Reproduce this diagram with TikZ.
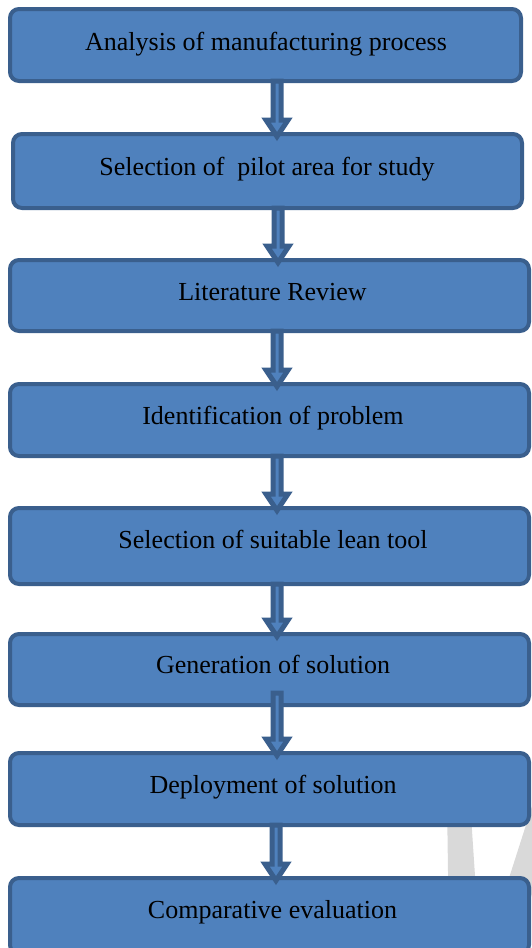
\documentclass[tikz,border=0pt]{standalone}
\usepackage{fontspec}
\setmainfont{Liberation Serif}
\usetikzlibrary{calc}
\definecolor{boxfill}{HTML}{4F81BD}
\definecolor{boxline}{HTML}{3A5F8D}
\definecolor{wmark}{HTML}{D9D9D9}
\tikzset{
  flowbox/.style={draw=boxline, fill=boxfill, line width=4pt, rounded corners=9pt,
    inner sep=0pt, outer sep=0pt},
  flowtext/.style={anchor=base, inner sep=0pt, font=\fontsize{26}{30}\selectfont},
  blockarrow/.style={draw=boxline, fill=boxfill, line width=5pt, line join=miter, miter limit=10}
}
\newcommand{\mkbox}[5]{% name, left, right, top, bottom
  \node[flowbox, minimum width={#3-#2-4}, minimum height={#5-#4-4}]
    (#1) at ({(#2+#3)/2},{(#4+#5)/2}) {};
}
% block arrow from node #1 (bottom) to node #2 (top), at x = #3, start raised by #4
\newcommand{\flowarrow}[4]{%
  \filldraw[blockarrow] let \p1=(#1.south), \p2=(#2.north) in
    ({(#3-4)*1pt},{\y1+#4}) -- ({(#3+4)*1pt},{\y1+#4}) -- ({(#3+4)*1pt},{\y2+14pt})
    -- ({(#3+11)*1pt},{\y2+14pt}) -- ({#3*1pt},{\y2-2.5pt}) -- ({(#3-11)*1pt},{\y2+14pt})
    -- ({(#3-4)*1pt},{\y2+14pt}) -- cycle;
}
\begin{document}
\begin{tikzpicture}[x=1pt,y=-1pt]
\useasboundingbox (0,0) rectangle (531,948);
% watermark fragments
\fill[wmark] (447,800) -- (470,800) -- (476.6,900) -- (448.4,900) -- cycle;
\fill[wmark] (534,800) -- (562,800) -- (530,900) -- (502,900) -- cycle;
% boxes
\mkbox{b1}{8}{523}{7}{83}
\mkbox{b2}{11}{524}{132}{210}
\mkbox{b3}{8}{531}{258}{333}
\mkbox{b4}{8}{531}{382}{458}
\mkbox{b5}{8}{531}{506}{586}
\mkbox{b6}{8}{531}{632}{707}
\mkbox{b7}{8}{531}{751}{827}
\mkbox{b8}{8}{531}{876}{956}
% texts
\node[flowtext] (t1) at (266,50) {Analysis of manufacturing process};
\node[flowtext] (t2) at (267,175) {Selection of\ \ pilot area for study};
\node[flowtext] (t3) at (272.5,300) {Literature Review};
\node[flowtext] (t4) at (273,424) {Identification of problem};
\node[flowtext] (t5) at (273,548) {Selection of suitable lean tool};
\node[flowtext] (t6) at (273,673) {Generation of solution};
\node[flowtext] (t7) at (273,793) {Deployment of solution};
\node[flowtext] (t8) at (272.5,918) {Comparative evaluation};
% arrows
\flowarrow{b1}{b2}{277}{0pt}
\flowarrow{b2}{b3}{278}{0pt}
\flowarrow{b3}{b4}{277}{0pt}
\flowarrow{b4}{b5}{277}{0pt}
\flowarrow{b5}{b6}{277}{0pt}
\flowarrow{b6}{b7}{277}{12pt}
\flowarrow{b7}{b8}{276}{0pt}
\end{tikzpicture}
\end{document}
